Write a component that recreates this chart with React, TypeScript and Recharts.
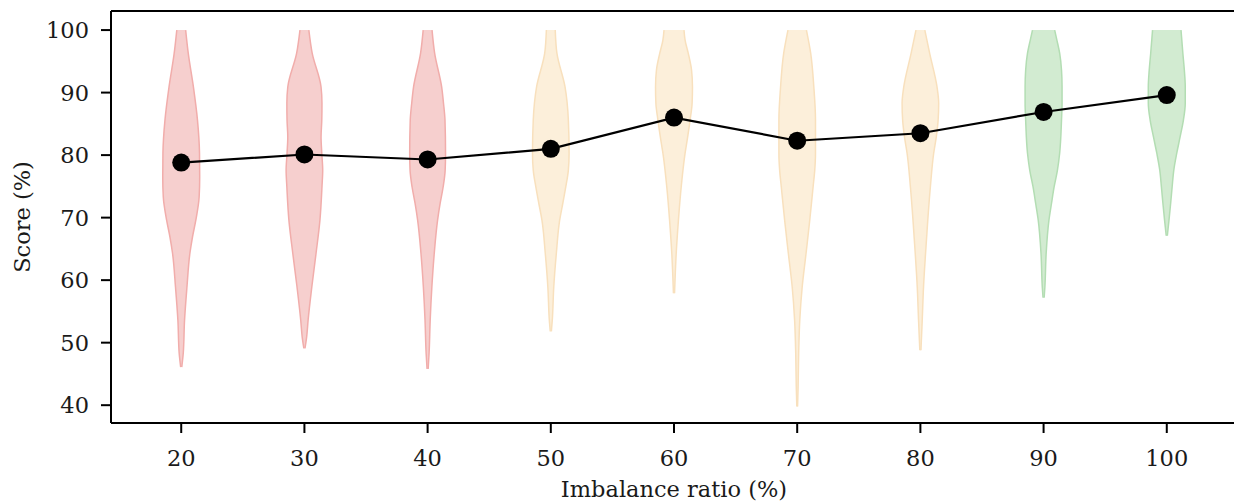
import React from 'react';
import { ComposedChart, Area, Line, XAxis, YAxis, ReferenceLine } from 'recharts';

// Imbalance ratios (x categories)
const ratios = [20, 30, 40, 50, 60, 70, 80, 90, 100];
// Mean score per ratio (black dots)
const meanScores = [78.8, 80.1, 79.3, 81.0, 86.0, 82.3, 83.5, 86.9, 89.6];
// Colour group per ratio
const groups = ['low', 'low', 'low', 'mid', 'mid', 'mid', 'mid', 'high', 'high'];

const xTicks = [20, 30, 40, 50, 60, 70, 80, 90, 100];
const yTicks = [40, 50, 60, 70, 80, 90, 100];

// Violin profiles: [score, relative density (0..1)]
const violin20: [number, number][] = [
  [100, 0.24], [96.3, 0.38], [90.9, 0.66], [85.6, 0.88], [80.3, 0.99], [76.5, 1.0], [73.3, 0.97],
  [69.6, 0.79], [66.9, 0.61], [64.3, 0.47], [58.9, 0.31], [53.6, 0.18], [48.3, 0.11], [46.1, 0.03],
];
const violin30: [number, number][] = [
  [100, 0.24], [96.3, 0.42], [90.9, 0.9], [88.3, 0.95], [85.6, 0.94], [82.9, 0.9], [80.3, 0.94],
  [77.6, 0.99], [74.9, 0.95], [69.6, 0.84], [64.3, 0.63], [58.9, 0.4], [53.6, 0.2], [50.9, 0.12], [49.1, 0.03],
];
const violin40: [number, number][] = [
  [100, 0.24], [96.3, 0.38], [90.9, 0.76], [88.3, 0.86], [85.6, 0.94], [80.3, 0.97], [77.6, 0.95],
  [74.9, 0.84], [72.3, 0.68], [69.6, 0.54], [64.3, 0.36], [58.9, 0.23], [53.6, 0.14], [48.3, 0.08], [45.8, 0.03],
];
const violin50: [number, number][] = [
  [100, 0.24], [96.3, 0.33], [90.9, 0.77], [85.6, 0.95], [80.3, 0.99], [77.6, 0.95], [74.9, 0.81],
  [72.3, 0.65], [69.6, 0.48], [64.3, 0.3], [58.9, 0.16], [53.6, 0.08], [51.8, 0.03],
];
const violin60: [number, number][] = [
  [100, 0.54], [98.4, 0.6], [96.3, 0.77], [93.6, 0.95], [90.9, 1.0], [88.3, 0.98], [85.6, 0.87],
  [82.9, 0.74], [80.3, 0.6], [74.9, 0.39], [69.6, 0.24], [64.3, 0.12], [57.9, 0.03],
];
const violin70: [number, number][] = [
  [100, 0.5], [96.3, 0.73], [90.9, 0.9], [85.6, 0.99], [80.3, 0.99], [77.6, 0.95], [74.9, 0.86],
  [69.6, 0.68], [64.3, 0.48], [58.9, 0.27], [53.6, 0.14], [48.3, 0.08], [42.9, 0.05], [39.8, 0.02],
];
const violin80: [number, number][] = [
  [100, 0.24], [96.3, 0.5], [90.9, 0.9], [88.3, 0.99], [85.6, 0.96], [82.9, 0.86], [80.3, 0.72],
  [74.9, 0.54], [69.6, 0.4], [64.3, 0.28], [58.9, 0.17], [53.6, 0.1], [48.8, 0.03],
];
const violin90: [number, number][] = [
  [100, 0.6], [98.4, 0.72], [96.3, 0.87], [93.6, 0.97], [90.9, 1.0], [88.3, 1.0], [85.6, 0.97],
  [80.3, 0.87], [77.6, 0.75], [74.9, 0.57], [72.3, 0.43], [69.6, 0.29], [64.3, 0.14], [58.9, 0.07], [57.2, 0.03],
];
const violin100: [number, number][] = [
  [100, 0.77], [96.3, 0.87], [93.6, 0.95], [90.9, 1.0], [88.3, 1.0], [85.6, 0.9], [82.9, 0.72],
  [80.3, 0.54], [77.6, 0.38], [74.9, 0.29], [72.3, 0.21], [69.6, 0.12], [67.1, 0.03],
];

const violins = [violin20, violin30, violin40, violin50, violin60, violin70, violin80, violin90, violin100];

const FILL: Record<string, string> = { low: '#f6cfce', mid: '#fcefda', high: '#d2ebd1' };
const EDGE: Record<string, string> = { low: '#f1adab', mid: '#f8e0bd', high: '#b3ddb3' };
const HALF_WIDTH = 1.5;
const X_DOMAIN: [number, number] = [14.3, 105.7];
const Y_DOMAIN: [number, number] = [37.15, 103.05];
const FONT = "'DejaVu Serif', serif";
const TEXT = '#1a1a1a';
const FS = 22.5;

const meanRows = ratios.map((r, i) => ({ ratio: r, score: meanScores[i] }));
const violinRows = violins.map((prof, i) =>
  prof.map(([score, d]) => ({ score, range: [ratios[i] - d * HALF_WIDTH, ratios[i] + d * HALF_WIDTH] }))
);

export default function App() {
  return (
    <div style={{ position: 'absolute', left: 0, top: 0, background: '#fff', width: 1234, height: 501, overflow: 'hidden' }}>
      <ComposedChart
        layout="vertical"
        width={1240}
        height={501}
        data={meanRows}
        margin={{ top: 11, right: 3, bottom: 0, left: 0 }}
      >
        <XAxis
          type="number"
          domain={X_DOMAIN}
          allowDataOverflow
          ticks={xTicks}
          interval={0}
          height={78}
          tickSize={10}
          tickMargin={17}
          axisLine={{ stroke: '#000', strokeWidth: 2 }}
          tickLine={{ stroke: '#000', strokeWidth: 2 }}
          tick={{ fill: TEXT, fontSize: FS, fontFamily: FONT }}
          label={{ value: 'Imbalance ratio (%)', position: 'insideBottom', offset: 4, fill: TEXT, fontSize: FS, fontFamily: FONT }}
        />
        <YAxis
          type="number"
          dataKey="score"
          reversed
          domain={Y_DOMAIN}
          allowDataOverflow
          ticks={yTicks}
          interval={0}
          width={111}
          tickSize={10}
          tickMargin={12}
          axisLine={{ stroke: '#000', strokeWidth: 2 }}
          tickLine={{ stroke: '#000', strokeWidth: 2 }}
          tick={{ fill: TEXT, fontSize: FS, fontFamily: FONT }}
          label={{
            value: 'Score (%)',
            angle: -90,
            position: 'insideLeft',
            offset: 22,
            fill: TEXT,
            fontSize: FS,
            fontFamily: FONT,
            style: { textAnchor: 'middle' },
          }}
        />
        <ReferenceLine y={Y_DOMAIN[1]} stroke="#000" strokeWidth={2} ifOverflow="visible" />
        <ReferenceLine x={X_DOMAIN[1]} stroke="#000" strokeWidth={2} ifOverflow="visible" />
        {violinRows.map((rows, i) => (
          <Area
            key={ratios[i]}
            data={rows}
            dataKey="range"
            type="monotone"
            stroke={EDGE[groups[i]]}
            strokeWidth={1.5}
            fill={FILL[groups[i]]}
            fillOpacity={1}
            dot={false}
            activeDot={false}
            isAnimationActive={false}
          />
        ))}
        <Line
          data={meanRows}
          dataKey="ratio"
          type="linear"
          stroke="#000"
          strokeWidth={2.2}
          dot={{ r: 9, fill: '#000', stroke: '#000', strokeWidth: 0 }}
          activeDot={false}
          isAnimationActive={false}
        />
      </ComposedChart>
    </div>
  );
}
